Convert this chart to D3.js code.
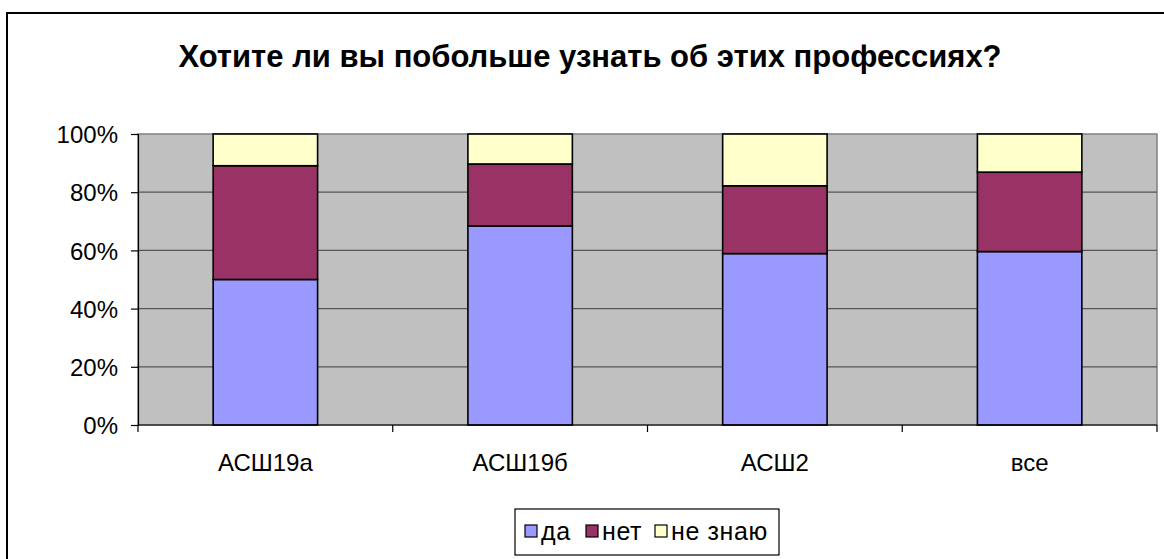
<!DOCTYPE html>
<html>
<head>
<meta charset="utf-8">
<script src="https://cdn.jsdelivr.net/npm/d3@7"></script>
<style>
  body { margin: 0; background: #fff; }
  text { font-family: "Liberation Sans", Arial, sans-serif; fill: #000; }
</style>
</head>
<body>
<div class="chart"></div>
<script>
const categories = ['АСШ19а', 'АСШ19б', 'АСШ2', 'все']
const seriesNames = ['да', 'нет', 'не знаю']
const yes = [50, 68.4, 58.9, 59.6]
const no = [39.1, 21.3, 23.3, 27.3]
const dontKnow = [10.9, 10.3, 17.8, 13.1]
const yTicks = [0, 20, 40, 60, 80, 100]
const colors = ['#9999ff', '#993366', '#ffffcc']

const width = 1164
const height = 559
const margin = {top: 134, right: 7, bottom: 134, left: 138}

const data = categories.map((c, i) => ({cat: c, 'да': yes[i], 'нет': no[i], 'не знаю': dontKnow[i]}))

const stack = d3.stack().keys(seriesNames)(data)

const xScale = d3.scaleBand()
  .domain(categories)
  .range([margin.left, width - margin.right])
  .paddingInner(0.59)
  .paddingOuter(0.295)

const yScale = d3.scaleLinear()
  .domain([0, 100])
  .range([height - margin.bottom, margin.top])

const svg = d3.select('.chart')
  .append('svg')
  .attr('width', width)
  .attr('height', height)

// outer chart frame
svg.append('rect')
  .attr('x', 7).attr('y', 13)
  .attr('width', width + 20).attr('height', height + 20)
  .attr('fill', '#fff')
  .attr('stroke', '#000')
  .attr('stroke-width', 2)

svg.append('text')
  .attr('x', 590)
  .attr('y', 67)
  .attr('text-anchor', 'middle')
  .style('font-size', '31px')
  .style('font-weight', 'bold')
  .text('Хотите ли вы побольше узнать об этих профессиях?')

// plot area
svg.append('rect')
  .attr('x', margin.left)
  .attr('y', yScale(100))
  .attr('width', width - margin.right - margin.left)
  .attr('height', yScale(0) - yScale(100))
  .attr('fill', '#c0c0c0')
  .attr('stroke', '#808080')
  .attr('stroke-width', 1.5)

svg.append('g')
  .selectAll('line')
  .data(yTicks.slice(1, -1))
  .join('line')
  .attr('x1', margin.left)
  .attr('x2', width - margin.right)
  .attr('y1', d => yScale(d))
  .attr('y2', d => yScale(d))
  .attr('stroke', '#555')
  .attr('stroke-width', 1.2)

// bars
svg.append('g')
  .selectAll('g')
  .data(stack)
  .join('g')
  .attr('fill', (d, i) => colors[i])
  .selectAll('rect')
  .data(d => d)
  .join('rect')
  .attr('x', d => xScale(d.data.cat))
  .attr('width', xScale.bandwidth())
  .attr('y', d => yScale(d[1]))
  .attr('height', d => yScale(d[0]) - yScale(d[1]))
  .attr('stroke', '#000')
  .attr('stroke-width', 1.6)

// y axis
let yaxis = svg.append('g')
  .attr('transform', 'translate(' + margin.left + ',0)')
  .call(d3.axisLeft(yScale)
    .tickValues(yTicks)
    .tickSize(7)
    .tickPadding(13)
    .tickFormat(d => d + '%'))
yaxis.select('.domain').attr('stroke', '#000').attr('stroke-width', 1.2)
yaxis.selectAll('.tick line').attr('stroke', '#000').attr('stroke-width', 1.2)
yaxis.selectAll('text').style('font-size', '24px').attr('dy', '0.36em')

// x axis
const step = xScale.step()
const bounds = d3.range(categories.length + 1).map(i => margin.left + i * step)

let xaxis = svg.append('g')
  .attr('transform', 'translate(0,' + yScale(0) + ')')
xaxis.append('line')
  .attr('x1', margin.left).attr('x2', width - margin.right)
  .attr('stroke', '#000').attr('stroke-width', 1.2)
xaxis.selectAll('.tk')
  .data(bounds)
  .join('line')
  .attr('class', 'tk')
  .attr('x1', d => d).attr('x2', d => d)
  .attr('y1', 0).attr('y2', 7)
  .attr('stroke', '#000').attr('stroke-width', 1.2)
xaxis.selectAll('text')
  .data(categories)
  .join('text')
  .attr('x', d => xScale(d) + xScale.bandwidth() / 2)
  .attr('y', 46)
  .attr('text-anchor', 'middle')
  .style('font-size', '24px')
  .text(d => d)

// legend
const legend = svg.append('g').attr('transform', 'translate(515,509)')
legend.append('rect')
  .attr('width', 264).attr('height', 46)
  .attr('fill', '#fff').attr('stroke', '#000').attr('stroke-width', 1.2)

const legendX = [10, 71, 140]
seriesNames.forEach((name, i) => {
  legend.append('rect')
    .attr('x', legendX[i]).attr('y', 16)
    .attr('width', 12).attr('height', 12)
    .attr('fill', colors[i]).attr('stroke', '#000').attr('stroke-width', 1.2)
  legend.append('text')
    .attr('x', legendX[i] + 16).attr('y', 31)
    .style('font-size', '25px')
    .style('letter-spacing', '0.6px')
    .text(name)
})
</script>
</body>
</html>
